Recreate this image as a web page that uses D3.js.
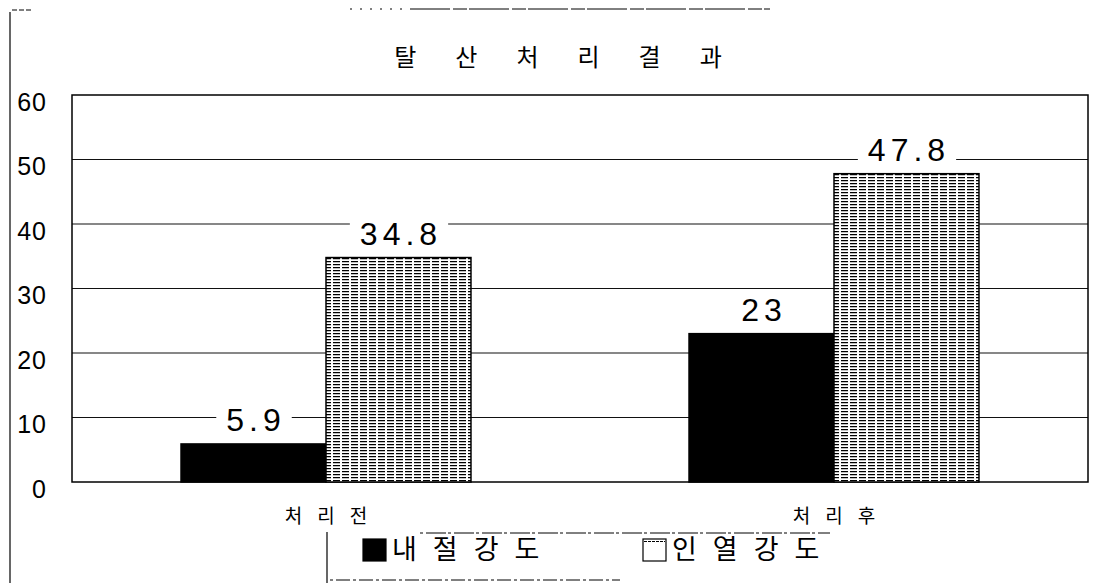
<!DOCTYPE html>
<html>
<head>
<meta charset="utf-8">
<script src="https://cdn.jsdelivr.net/npm/d3@7"></script>
<style>
    body { margin: 0; background: #fff; }
    .kr { font-family: "Noto Sans CJK KR", sans-serif; }
    .num { font-family: "Liberation Sans", Arial, sans-serif; }
</style>
</head>
<body>
<div id="chart"></div>
<script>
// chart data
const categories = ["처리전", "처리후"];
const seriesNames = ["내절강도", "인열강도"];
const naejeol = [5.9, 23];
const inyeol = [34.8, 47.8];
const yTicks = [0, 10, 20, 30, 40, 50, 60];
const title = "탈산처리결과";

document.addEventListener("DOMContentLoaded", function () {
    const width = 1105, height = 583;
    const plot = { left: 72, right: 1088, top: 95, bottom: 482 };

    const svg = d3.select("#chart")
        .append("svg")
        .attr("width", width)
        .attr("height", height);

    // hatch pattern for the second series (dense dashed rows)
    const pat = svg.append("defs").append("pattern")
        .attr("id", "hatch")
        .attr("patternUnits", "userSpaceOnUse")
        .attr("width", 9)
        .attr("height", 3);
    pat.append("rect").attr("width", 9).attr("height", 3).attr("fill", "#fff");
    pat.append("line")
        .attr("x1", 0).attr("x2", 7)
        .attr("y1", 0.6).attr("y2", 0.6)
        .attr("stroke", "#000")
        .attr("stroke-width", 1.3);

    const data = categories.map((c, i) => ({ cat: c, values: [naejeol[i], inyeol[i]] }));

    const x = d3.scaleBand()
        .domain(categories)
        .range([plot.left, plot.right]);

    const xSub = d3.scaleBand()
        .domain(seriesNames)
        .range([0, x.bandwidth()])
        .paddingOuter(0.752);

    const y = d3.scaleLinear()
        .domain([0, 60])
        .range([plot.bottom, plot.top]);

    // scan frame bits
    svg.append("line").attr("x1", 10).attr("x2", 10).attr("y1", 12).attr("y2", height)
        .attr("stroke", "#000").attr("stroke-width", 1.2);
    svg.append("line").attr("x1", 12).attr("x2", 33).attr("y1", 10).attr("y2", 10)
        .attr("stroke", "#000").attr("stroke-dasharray", "5,2");
    svg.append("line").attr("x1", 350).attr("x2", 410).attr("y1", 9).attr("y2", 9)
        .attr("stroke", "#000").attr("stroke-dasharray", "2,8");
    svg.append("line").attr("x1", 410).attr("x2", 770).attr("y1", 9).attr("y2", 9)
        .attr("stroke", "#000").attr("stroke-dasharray", "40,3,14,2");

    // title
    svg.append("text")
        .attr("class", "kr")
        .attr("x", 558)
        .attr("y", 58)
        .attr("dy", "0.35em")
        .attr("dx", 19.5)
        .attr("text-anchor", "middle")
        .attr("letter-spacing", 39)
        .style("font-size", "24px")
        .text(title);

    // gridlines
    svg.append("g")
        .selectAll("line")
        .data(yTicks.filter(t => t > 0 && t < 60))
        .join("line")
        .attr("x1", plot.left)
        .attr("x2", plot.right)
        .attr("y1", d => y(d))
        .attr("y2", d => y(d))
        .attr("stroke", "#111")
        .attr("stroke-width", 1.2);

    // plot frame
    svg.append("rect")
        .attr("x", plot.left)
        .attr("y", plot.top)
        .attr("width", plot.right - plot.left)
        .attr("height", plot.bottom - plot.top)
        .attr("fill", "none")
        .attr("stroke", "#000")
        .attr("stroke-width", 1.5);

    // y axis
    const yAxis = svg.append("g")
        .attr("transform", `translate(${plot.left},0)`)
        .call(d3.axisLeft(y).tickValues(yTicks).tickSize(0).tickPadding(25));
    yAxis.select(".domain").remove();
    yAxis.selectAll("text")
        .attr("class", "num")
        .attr("dy", "0.6em")
        .attr("letter-spacing", 1)
        .style("font-size", "25px")
        .attr("fill", "#000");

    // bars
    const groups = svg.append("g")
        .selectAll("g")
        .data(data)
        .join("g")
        .attr("transform", d => `translate(${x(d.cat)},0)`);

    groups.selectAll("rect")
        .data(d => d.values.map((v, i) => ({ name: seriesNames[i], value: v })))
        .join("rect")
        .attr("x", d => xSub(d.name))
        .attr("y", d => y(d.value))
        .attr("width", xSub.bandwidth())
        .attr("height", d => y(0) - y(d.value))
        .attr("fill", (d, i) => i === 0 ? "#000" : "url(#hatch)")
        .attr("stroke", "#000")
        .attr("stroke-width", 1.5);

    // value labels with white backing
    const labels = groups.selectAll("g.lbl")
        .data(d => d.values.map((v, i) => ({ name: seriesNames[i], value: v })))
        .join("g")
        .attr("class", "lbl")
        .attr("transform", d => `translate(${xSub(d.name) + xSub.bandwidth() / 2},${y(d.value) - 13})`);

    labels.append("text")
        .attr("class", "num")
        .attr("text-anchor", "middle")
        .attr("letter-spacing", 5)
        .attr("dx", 2.5)
        .style("font-size", "32px")
        .text(d => d.value);

    labels.insert("rect", "text")
        .each(function () {
            const bb = this.parentNode.querySelector("text").getBBox();
            d3.select(this)
                .attr("x", bb.x - 10)
                .attr("y", bb.y + 2)
                .attr("width", bb.width + 16)
                .attr("height", bb.height - 2)
                .attr("fill", "#fff");
        });

    // category labels
    svg.append("g")
        .selectAll("text")
        .data(categories)
        .join("text")
        .attr("class", "kr")
        .attr("x", d => x(d) + x.bandwidth() / 2)
        .attr("y", 516)
        .attr("dy", "0.35em")
        .attr("dx", 7.5)
        .attr("text-anchor", "middle")
        .attr("letter-spacing", 15)
        .style("font-size", "19px")
        .text(d => d);

    // legend
    const legend = svg.append("g");
    legend.append("line").attr("x1", 327).attr("x2", 327).attr("y1", 532).attr("y2", height)
        .attr("stroke", "#000").attr("stroke-width", 1.2);
    legend.append("line").attr("x1", 420).attr("x2", 830).attr("y1", 533).attr("y2", 533)
        .attr("stroke", "#000").attr("stroke-dasharray", "3,3,20,2");
    legend.append("line").attr("x1", 330).attr("x2", 620).attr("y1", 580).attr("y2", 580)
        .attr("stroke", "#000").attr("stroke-dasharray", "3,3,14,3");

    const legendX = d3.scalePoint()
        .domain(seriesNames)
        .range([363, 643]);

    const items = legend.selectAll("g.item")
        .data(seriesNames)
        .join("g")
        .attr("class", "item")
        .attr("transform", d => `translate(${legendX(d)},539)`);

    items.append("rect")
        .attr("width", 23)
        .attr("height", 22)
        .attr("fill", (d, i) => i === 0 ? "#000" : "#fff")
        .attr("stroke", "#000")
        .attr("stroke-width", 1.2);

    // dashed top edge on the open legend swatch
    items.filter((d, i) => i === 1).append("line")
        .attr("x1", 1).attr("x2", 22)
        .attr("y1", 2.5).attr("y2", 2.5)
        .attr("stroke", "#000")
        .attr("stroke-dasharray", "3,1");

    items.append("text")
        .attr("class", "kr")
        .attr("x", 29)
        .attr("y", 11)
        .attr("dy", "0.35em")
        .attr("letter-spacing", 16)
        .style("font-size", "27px")
        .text(d => d);
});
</script>
</body>
</html>
